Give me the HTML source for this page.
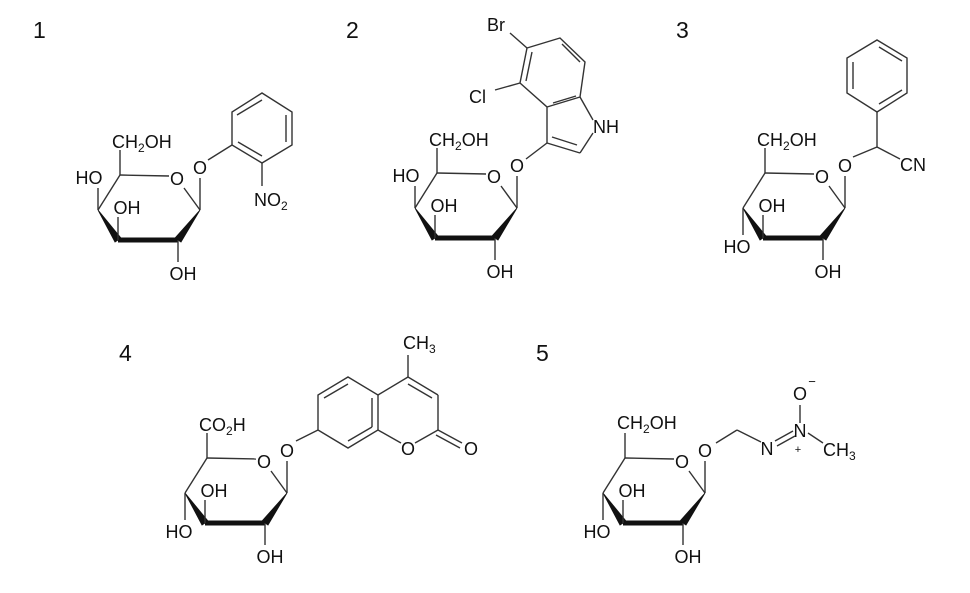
<!DOCTYPE html>
<html><head><meta charset="utf-8"><style>
html,body{margin:0;padding:0;background:#fff;}
svg{display:block;}
text{font-family:"Liberation Sans",sans-serif;fill:#111;}
.l{font-size:18px;}
.n{font-size:23px;}
line,polyline,polygon{stroke:#333;stroke-width:1.4;fill:none;}
</style></head><body>
<svg width="970" height="593" viewBox="0 0 970 593" xmlns="http://www.w3.org/2000/svg">
<defs>
<g id="core">
  <line x1="120" y1="175" x2="120" y2="150"/>
  <line x1="120" y1="175" x2="169" y2="176"/>
  <line x1="184" y1="188" x2="200" y2="210"/>
  <line x1="120" y1="175" x2="98" y2="210"/>
  <line x1="200" y1="210" x2="200" y2="178"/>
  <polygon points="98,210 115,242 121,238" style="fill:#111;stroke:#111;stroke-width:0.8"/>
  <line x1="118" y1="240" x2="178" y2="240" style="stroke:#111;stroke-width:5"/>
  <polygon points="175,238 181,242 200,210" style="fill:#111;stroke:#111;stroke-width:0.8"/>
  <line x1="118" y1="240" x2="118" y2="217"/>
  <line x1="178" y1="240" x2="178" y2="262"/>
  <text class="l" x="177" y="185" text-anchor="middle">O</text>
  <text class="l" x="200" y="174" text-anchor="middle">O</text>
  <text class="l" x="127" y="214" text-anchor="middle">OH</text>
  <text class="l" x="183" y="280" text-anchor="middle">OH</text>
</g>
<g id="gal">
  <use href="#core"/>
  <line x1="98" y1="210" x2="98" y2="188"/>
  <text class="l" x="89" y="184" text-anchor="middle">HO</text>
  <text class="l" x="112" y="148">CH<tspan font-size="12" dy="4">2</tspan><tspan dy="-4">OH</tspan></text>
</g>
<g id="glcbase">
  <use href="#core"/>
  <line x1="98" y1="210" x2="98" y2="237"/>
  <text class="l" x="92" y="255" text-anchor="middle">HO</text>
</g>
</defs>

<text class="n" x="33" y="38" transform="scale(1,1)">1</text>
<text class="n" x="346" y="38">2</text>
<text class="n" x="676" y="38">3</text>
<text class="n" x="119" y="361">4</text>
<text class="n" x="536" y="361">5</text>

<!-- 1 -->
<use href="#gal"/>
<line x1="208" y1="160" x2="232" y2="145"/>
<polygon points="232,145 232,112 262,93 292,112 292,145 262,163"/>
<line x1="237" y1="115" x2="262" y2="100"/>
<line x1="286" y1="115" x2="286" y2="142"/>
<line x1="262" y1="156" x2="238" y2="142"/>
<line x1="262" y1="163" x2="262" y2="186"/>
<text class="l" x="254" y="206">NO<tspan font-size="12" dy="4">2</tspan></text>

<!-- 2 -->
<g transform="translate(317,-2)"><use href="#gal"/></g>
<line x1="526" y1="159" x2="547" y2="143"/>
<polyline points="547,143 547,107 520,83 527,48 560,38 585,62 580,97 547,107"/>
<line x1="547" y1="143" x2="580" y2="153"/>
<line x1="580" y1="153" x2="593" y2="133"/>
<line x1="580" y1="97" x2="593" y2="120"/>
<line x1="552" y1="137" x2="577" y2="145"/>
<line x1="553" y1="103" x2="576" y2="96"/>
<line x1="526" y1="81" x2="532" y2="52"/>
<line x1="562" y1="44" x2="580" y2="62"/>
<line x1="520" y1="83" x2="495" y2="90"/>
<line x1="527" y1="48" x2="510" y2="33"/>
<text class="l" x="593" y="133">NH</text>
<text class="l" x="469" y="103">Cl</text>
<text class="l" x="487" y="31">Br</text>

<!-- 3 -->
<g transform="translate(645,-2)"><use href="#glcbase"/></g>
<text class="l" x="757" y="146">CH<tspan font-size="12" dy="4">2</tspan><tspan dy="-4">OH</tspan></text>
<line x1="853" y1="157" x2="877" y2="147"/>
<line x1="877" y1="147" x2="900" y2="159"/>
<line x1="877" y1="147" x2="877" y2="112"/>
<polygon points="877,112 847,93 847,58 877,40 907,58 907,93"/>
<line x1="853" y1="62" x2="853" y2="89"/>
<line x1="879" y1="47" x2="902" y2="61"/>
<line x1="902" y1="90" x2="879" y2="104"/>
<text class="l" x="900" y="171">CN</text>

<!-- 4 -->
<g transform="translate(87,283)"><use href="#glcbase"/></g>
<text class="l" x="199" y="431">CO<tspan font-size="12" dy="4">2</tspan><tspan dy="-4">H</tspan></text>
<line x1="296" y1="441" x2="318" y2="430"/>
<polygon points="318,430 348,448 378,430 378,395 348,377 318,395"/>
<line x1="324" y1="398" x2="348" y2="384"/>
<line x1="348" y1="441" x2="372" y2="427"/>
<line x1="372" y1="398" x2="372" y2="427"/>
<line x1="378" y1="430" x2="401" y2="443"/>
<line x1="415" y1="443" x2="438" y2="430"/>
<line x1="438" y1="430" x2="438" y2="395"/>
<line x1="438" y1="430" x2="462" y2="443"/>
<line x1="436" y1="435" x2="460" y2="448"/>
<line x1="438" y1="395" x2="408" y2="377"/>
<line x1="408" y1="377" x2="378" y2="395"/>
<line x1="432" y1="398" x2="408" y2="384"/>
<line x1="408" y1="377" x2="408" y2="355"/>
<text class="l" x="408" y="455" text-anchor="middle">O</text>
<text class="l" x="471" y="455" text-anchor="middle">O</text>
<text class="l" x="403" y="349">CH<tspan font-size="12" dy="4">3</tspan></text>

<!-- 5 -->
<g transform="translate(505,283)"><use href="#glcbase"/></g>
<text class="l" x="617" y="429">CH<tspan font-size="12" dy="4">2</tspan><tspan dy="-4">OH</tspan></text>
<line x1="716" y1="443" x2="737" y2="430"/>
<line x1="737" y1="430" x2="761" y2="442"/>
<text class="l" x="767" y="455" text-anchor="middle">N</text>
<line x1="775" y1="441" x2="793" y2="431"/>
<line x1="777" y1="446" x2="795" y2="436"/>
<text class="l" x="800" y="437" text-anchor="middle">N</text>
<text x="798" y="453" text-anchor="middle" font-size="11">+</text>
<line x1="800" y1="423" x2="800" y2="405"/>
<text class="l" x="800" y="400" text-anchor="middle">O</text>
<text x="812" y="386" text-anchor="middle" font-size="13">−</text>
<line x1="808" y1="433" x2="823" y2="443"/>
<text class="l" x="823" y="456">CH<tspan font-size="12" dy="4">3</tspan></text>
</svg>
</body></html>
